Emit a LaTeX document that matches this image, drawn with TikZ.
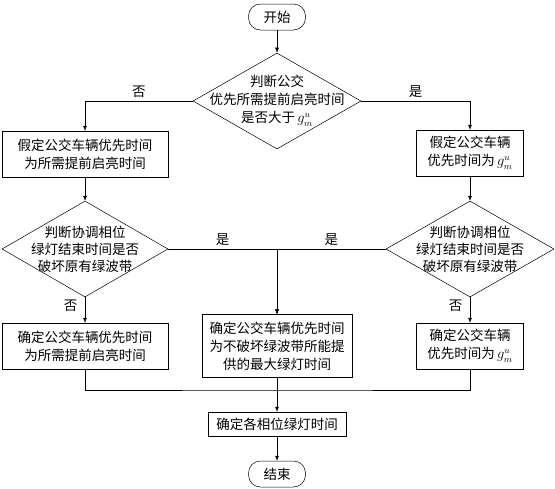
\documentclass[tikz,border=0pt]{standalone}
\usepackage{fontspec}
\setmainfont{Noto Sans CJK SC}
\usetikzlibrary{shapes.geometric,arrows.meta,positioning,calc}

\begin{document}
\begin{tikzpicture}[x=1pt, y=-1pt, >={Latex[length=5pt,width=4pt]}, line width=0.5pt,
    font=\fontsize{13.5}{18}\selectfont,
    box/.style={draw, rectangle, inner sep=0pt, align=center, minimum width=166pt, minimum height=46pt},
    dec/.style={draw, diamond, inner sep=0pt, minimum width=168pt, minimum height=96pt},
    term/.style={draw, rectangle, rounded corners=12pt, inner sep=0pt, minimum width=57pt, minimum height=26pt}]
    \useasboundingbox (0,0) rectangle (555,488);

    % Nodes
    \node [term] (start) at (277,17) {开始};
    \node [dec] (q1) at (277,101) {};
    \node [align=center] (q1txt) at (q1) {判断公交\\优先所需提前启亮时间\\是否大于\,$g_m^u$};
    \node [box] (pre) at (85,154) {假定公交车辆优先时间\\为所需提前启亮时间};
    \node [box, minimum width=107pt] (gmax) at (470,153) {假定公交车辆\\优先时间为\,$g_m^u$};
    \node [dec, minimum width=166pt] (q2) at (85,249) {};
    \node [align=center, font=\fontsize{13.5}{17}\selectfont] (q2txt) at (q2) {判断协调相位\\绿灯结束时间是否\\破坏原有绿波带};
    \node [dec] (q3) at (470,249) {};
    \node [align=center, font=\fontsize{13.5}{17}\selectfont] (q3txt) at (q3) {判断协调相位\\绿灯结束时间是否\\破坏原有绿波带};
    \node [box] (fixpre) at (85,346) {确定公交车辆优先时间\\为所需提前启亮时间};
    \node [box, minimum width=150pt, minimum height=63pt] (fixmax) at (277,346) {确定公交车辆优先时间\\为不破坏绿波带所能提\\供的最大绿灯时间};
    \node [box, minimum width=107pt] (fixg) at (470,346) {确定公交车辆\\优先时间为\,$g_m^u$};
    \coordinate (merge) at (277,390);
    \node [box, minimum width=138pt, minimum height=24pt] (phase) at (277,424) {确定各相位绿灯时间};
    \node [term] (stop) at (277,474) {结束};

    % Connections
    \draw [->] (start) -- (q1);
    \draw [->] (q1.west) -| node [pos=0.25, above] (no1) {否} (pre.north);
    \draw [->] (q1.east) -| node [pos=0.25, above] (yes1) {是} (gmax.north);
    \draw [->] (pre) -- (q2);
    \draw [->] (gmax) -- (q3);
    \draw [->] (q2.east) -| node [pos=0.25, above] (yes2) {是} (fixmax.north);
    \draw [->] (q3.west) -| node [pos=0.25, above] (yes3) {是} (fixmax.north);
    \draw [->] (q2.south) -- node [pos=0.35, left=4pt] (no2) {否} (fixpre.north);
    \draw [->] (q3.south) -- node [pos=0.35, left=4pt] (no3) {否} (fixg.north);
    \draw (fixpre.south) |- (merge) -| (fixg.south);
    \draw (fixmax.south) -- (merge);
    \draw [->] (merge) -- (phase.north);
    \draw [->] (phase) -- (stop);
\end{tikzpicture}
\end{document}
